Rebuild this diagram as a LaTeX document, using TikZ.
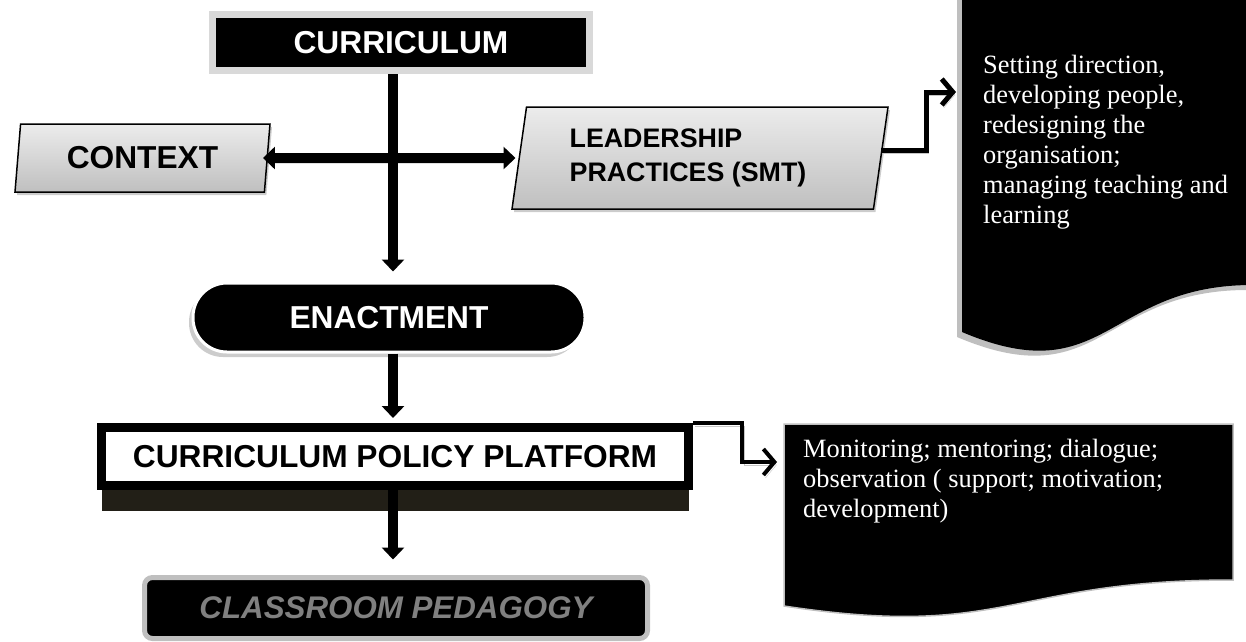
\documentclass[tikz,border=0pt]{standalone}
\usepackage{fontspec}
\setmainfont{Liberation Serif}
\newfontfamily\arialfont{Liberation Sans}
\usepackage{tikz}
\usetikzlibrary{arrows.meta,shapes.geometric,shadows}
\definecolor{darkband}{RGB}{34,31,23}

\begin{document}
\begin{tikzpicture}[x=1pt, y=-1pt,
  big/.style={font=\arialfont\bfseries\fontsize{31.7}{36}\selectfont},
  slanted/.style={trapezium, trapezium left angle=76, trapezium right angle=104, trapezium stretches body, draw=black, line width=1.5pt, top color=gray!15, bottom color=gray!50, inner sep=0pt, drop shadow={shadow xshift=2pt, shadow yshift=-3pt, fill=gray!40, opacity=1}},
  stem/.style={line width=10pt, -{Triangle[width=22pt,length=12pt]}},
  elbow/.style={line width=5pt, -{Straight Barb[length=11pt,width=26pt]}, preaction={draw=gray!45, transform canvas={xshift=2pt,yshift=-3pt}}},
  doctext/.style={anchor=north west, inner sep=0pt, align=left, text=white, font=\fontsize{26.4}{30}\selectfont}]
	\useasboundingbox (0,0) rectangle (1246,641);
	\coordinate (axis) at (393,0);
	\coordinate (tasksin) at (956,92);
	\coordinate (supportin) at (777,462);

	\node[draw=gray!30, line width=7pt, fill=black, text=white, big, minimum width=376.5pt, minimum height=56pt, inner sep=0pt] (curric) at (401,42.5) {CURRICULUM};
	\node[slanted, big, minimum width=255pt, minimum height=68pt] (context) at (142.5,158) {CONTEXT};
	\node[slanted, align=left, font=\arialfont\bfseries\fontsize{26.8}{34}\selectfont, minimum width=376pt, minimum height=102pt] (leader) at (700,158) {LEADERSHIP\\PRACTICES (SMT)\hspace*{24pt}};
	\node[rounded corners=34pt, fill=black, draw=white, line width=3pt, text=white, big, minimum width=392pt, minimum height=69pt, drop shadow={shadow xshift=-4pt, shadow yshift=-5pt, fill=gray!40, opacity=1}] (enact) at (389,317.5) {ENACTMENT};
	\node[draw=black, line width=9pt, fill=white, big, minimum width=587pt, minimum height=58pt, drop shadow={shadow xshift=0pt, shadow yshift=-25pt, fill=darkband, opacity=1}] (cpp) at (395,456.5) {CURRICULUM POLICY PLATFORM};
	\node[draw=gray!50, line width=5pt, fill=black, rounded corners=8pt, text=gray, font=\arialfont\bfseries\itshape\fontsize{31.3}{36}\selectfont, minimum width=503pt, minimum height=61pt] (class) at (396,608) {CLASSROOM PEDAGOGY};

	% document boxes on the right
	\fill[gray!50, xshift=-5pt, yshift=-5pt] (962,-5) -- (1252,-5) -- (1252,285) .. controls (1106,285) and (1106,393) .. (962,332) -- cycle;
	\fill[black] (962,-5) -- (1252,-5) -- (1252,285) .. controls (1106,285) and (1106,393) .. (962,332) -- cycle;
	\node[doctext] (tasks) at (983,55) {Setting direction,\\developing people,\\redesigning the\\organisation;\\managing teaching and\\learning};
	\filldraw[fill=black, draw=gray!50, line width=1.5pt] (784,424) -- (1233,424) -- (1233,580) .. controls (1008,580) and (1008,640) .. (784,606) -- cycle;
	\node[doctext] (support) at (803,439) {Monitoring; mentoring; dialogue;\\observation ( support; motivation;\\development)};

	\draw[stem, shorten >=10pt] (curric.south -| axis) -- (enact.north -| axis);
	\draw[line width=10pt, {Triangle[width=22pt,length=12pt]}-{Triangle[width=22pt,length=12pt]}, shorten <=-5pt, shorten >=3pt] (context.east) -- (leader.west);
	\draw[stem, shorten >=5pt] (enact.south -| axis) -- (cpp.north -| axis);
	\draw[stem, shorten >=15.5pt] (cpp.south -| axis) -- (class.north -| axis);
	\draw[elbow] ([yshift=8pt]leader.east) -- ++(45,0) |- (tasksin);
	\draw[elbow, line width=4pt] (cpp.north east) -- ++(49,0) |- (supportin);
\end{tikzpicture}
\end{document}
